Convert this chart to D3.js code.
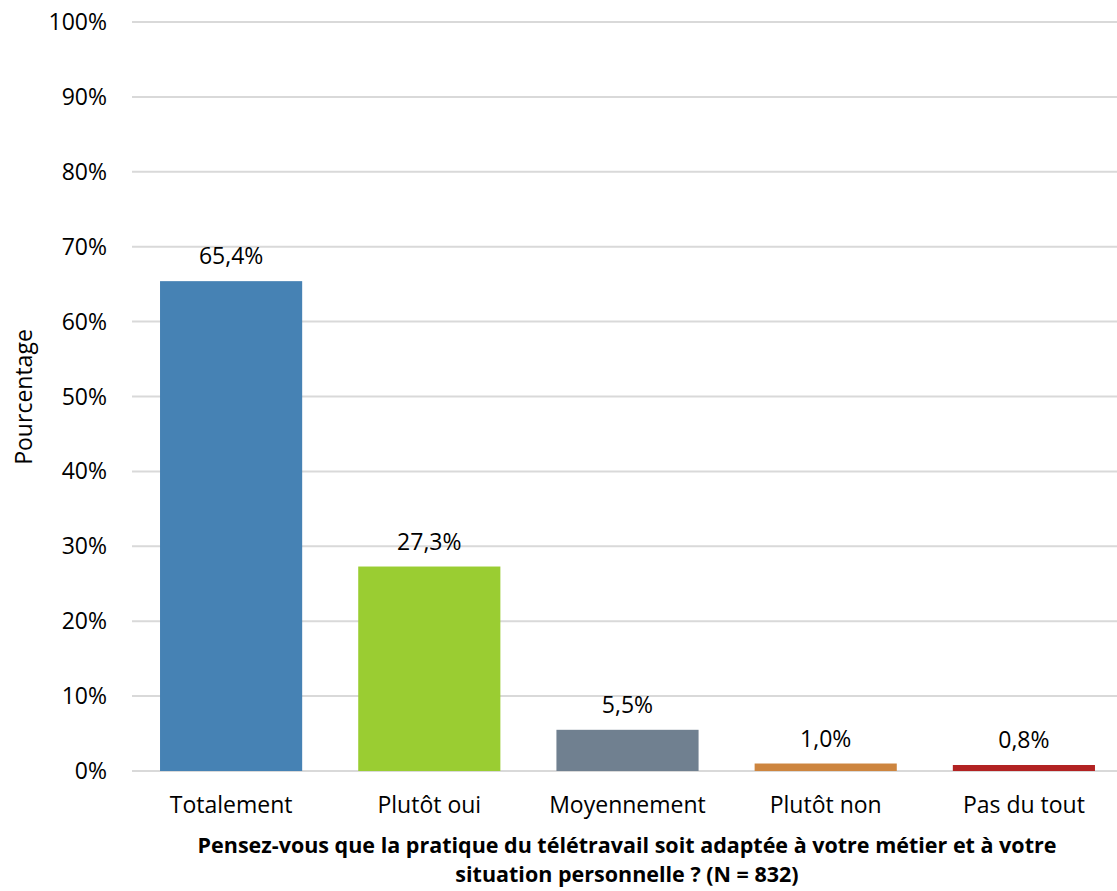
<!DOCTYPE html>
<html><head><meta charset="utf-8">
<script src="https://cdn.jsdelivr.net/npm/d3@7"></script>
<style>body{margin:0;background:#fff}svg{display:block;font-family:"Open Sans", sans-serif}</style>
</head><body><svg id="c" width="1117" height="891"></svg>
<script>
const categories = ["Totalement","Plutôt oui","Moyennement","Plutôt non","Pas du tout"];
const values = [65.4, 27.3, 5.5, 1.0, 0.8];
const labels = ["65,4%","27,3%","5,5%","1,0%","0,8%"];
const colors = ["#4682B4","#9ACD32","#708090","#CD853F","#B22222"];
const yTicks = [0,10,20,30,40,50,60,70,80,90,100];
const yTitle = "Pourcentage";
const xTitle = ["Pensez-vous que la pratique du télétravail soit adaptée à votre métier et à votre","situation personnelle ? (N = 832)"];

const svg = d3.select("#c");
const m = {left:132, right:1123, top:22, bottom:771};
const x = d3.scaleBand().domain(categories).range([m.left, m.right]).paddingInner(56/198).paddingOuter(28/198);
const y = d3.scaleLinear().domain([0,100]).range([m.bottom, m.top]);
const fs = 23;

svg.append("g").selectAll("line").data(yTicks).join("line")
  .attr("x1", m.left).attr("x2", m.right)
  .attr("y1", d=>y(d)).attr("y2", d=>y(d))
  .attr("stroke","#d9d9d9").attr("stroke-width",2);

svg.append("g").selectAll("text").data(yTicks).join("text")
  .attr("x",107).attr("y",d=>y(d)).attr("dy","0.35em")
  .attr("text-anchor","end").attr("font-size",fs).attr("fill","#000")
  .text(d=>d+"%");

svg.append("g").selectAll("rect").data(values).join("rect")
  .attr("x",(d,i)=>x(categories[i])).attr("width",x.bandwidth())
  .attr("y",d=>y(d)).attr("height",d=>y(0)-y(d))
  .attr("fill",(d,i)=>colors[i]);

svg.append("g").selectAll("text").data(values).join("text")
  .attr("x",(d,i)=>x(categories[i])+x.bandwidth()/2)
  .attr("y",d=>y(d)-17)
  .attr("text-anchor","middle").attr("font-size",fs).attr("fill","#000")
  .text((d,i)=>labels[i]);

svg.append("g").selectAll("text").data(categories).join("text")
  .attr("x",d=>x(d)+x.bandwidth()/2).attr("y",813)
  .attr("text-anchor","middle").attr("font-size",fs).attr("fill","#000")
  .text(d=>d);

svg.append("g").selectAll("text").data(xTitle).join("text")
  .attr("x",627).attr("y",(d,i)=>853+i*29)
  .attr("text-anchor","middle").attr("font-size",21.5).attr("font-weight","bold").attr("fill","#000")
  .text(d=>d);

svg.append("text").attr("transform","translate(32,397) rotate(-90)")
  .attr("text-anchor","middle").attr("font-size",fs).attr("fill","#000").text(yTitle);
</script></body></html>
